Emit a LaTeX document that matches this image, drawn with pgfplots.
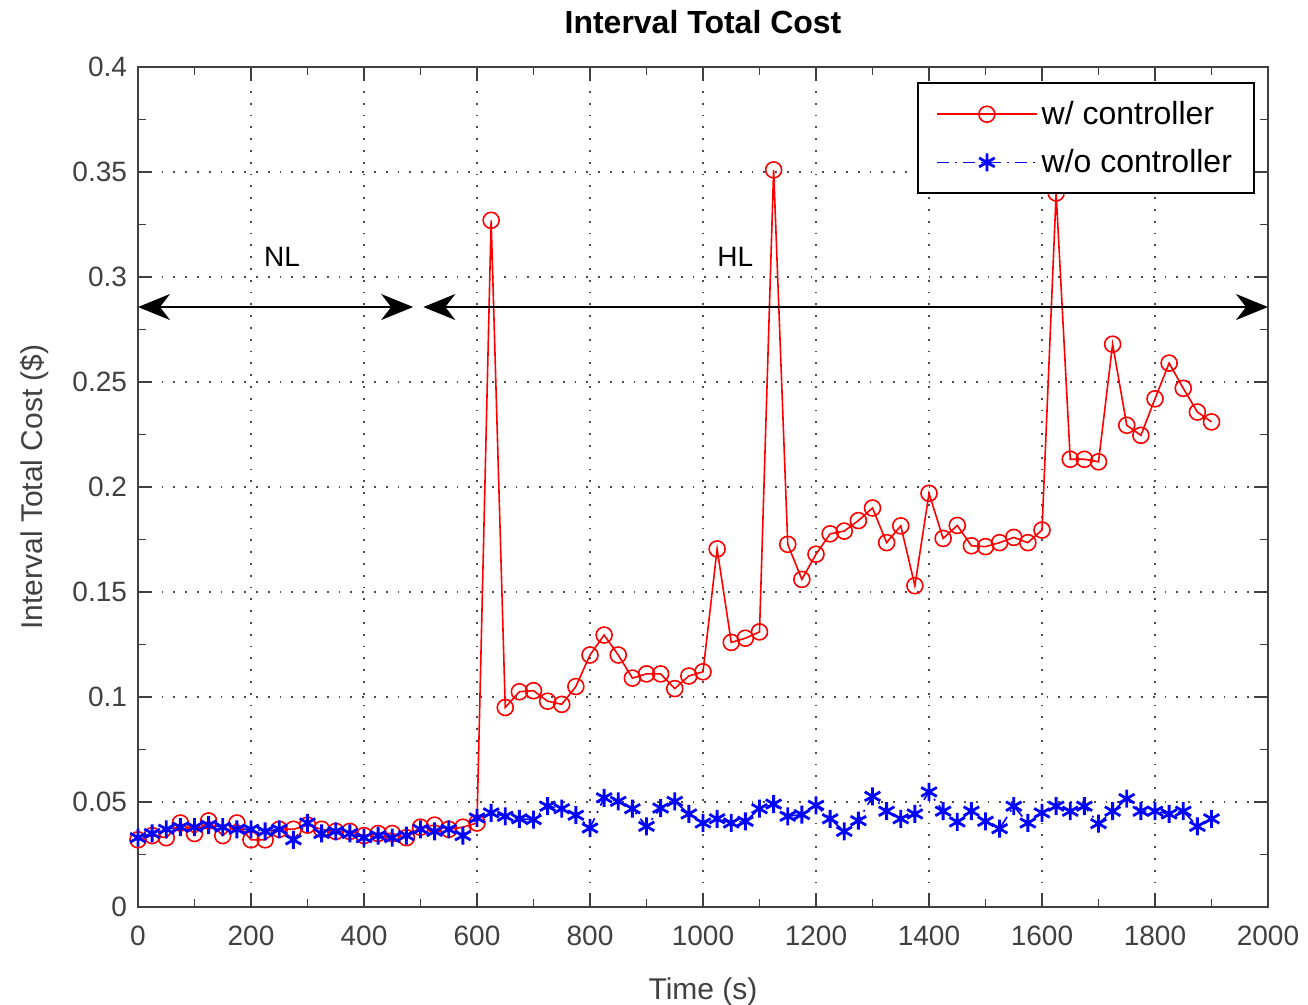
\documentclass[border=0pt]{standalone}
\usepackage{fontspec}
\setmainfont{Liberation Sans}
\usepackage{pgfplots}
\pgfplotsset{compat=1.18}
\usetikzlibrary{arrows.meta,calc}
\definecolor{axgray}{HTML}{404040}

\pgfplotstableread{
t cost
0 0.032
25 0.034
50 0.033
75 0.040
100 0.035
125 0.041
150 0.034
175 0.040
200 0.032
225 0.032
250 0.037
275 0.037
300 0.039
325 0.037
350 0.036
375 0.036
400 0.034
425 0.035
450 0.035
475 0.033
500 0.038
525 0.039
550 0.037
575 0.038
600 0.040
625 0.327
650 0.095
675 0.1025
700 0.103
725 0.098
750 0.0965
775 0.105
800 0.120
825 0.1295
850 0.120
875 0.109
900 0.111
925 0.111
950 0.104
975 0.110
1000 0.112
1025 0.1705
1050 0.126
1075 0.128
1100 0.131
1125 0.351
1150 0.1727
1175 0.156
1200 0.168
1225 0.1777
1250 0.179
1275 0.184
1300 0.190
1325 0.1735
1350 0.1815
1375 0.153
1400 0.197
1425 0.1755
1450 0.1817
1475 0.172
1500 0.1716
1525 0.1735
1550 0.176
1575 0.1735
1600 0.1795
1625 0.340
1650 0.2132
1675 0.2132
1700 0.212
1725 0.268
1750 0.2294
1775 0.2246
1800 0.242
1825 0.259
1850 0.247
1875 0.2357
1900 0.231
}\withctrl

\pgfplotstableread{
t cost
0 0.033
25 0.035
50 0.037
75 0.038
100 0.038
125 0.039
150 0.038
175 0.037
200 0.037
225 0.036
250 0.037
275 0.032
300 0.040
325 0.035
350 0.036
375 0.035
400 0.033
425 0.034
450 0.033
475 0.034
500 0.037
525 0.036
550 0.037
575 0.034
600 0.0424
625 0.0448
650 0.0432
675 0.042
700 0.0416
725 0.048
750 0.0468
775 0.0437
800 0.0376
825 0.052
850 0.0503
875 0.0468
900 0.0384
925 0.0471
950 0.0503
975 0.0443
1000 0.040
1025 0.042
1050 0.040
1075 0.0408
1100 0.0468
1125 0.049
1150 0.0432
1175 0.044
1200 0.0484
1225 0.042
1250 0.036
1275 0.0411
1300 0.0527
1325 0.0456
1350 0.042
1375 0.0443
1400 0.0548
1425 0.0456
1450 0.0405
1475 0.0456
1500 0.0408
1525 0.0373
1550 0.048
1575 0.040
1600 0.0448
1625 0.048
1650 0.0456
1675 0.048
1700 0.0397
1725 0.0456
1750 0.0516
1775 0.0456
1800 0.0456
1825 0.0443
1850 0.0456
1875 0.0384
1900 0.042
}\noctrl

\begin{document}
\begin{tikzpicture}
\begin{axis}[
  name=ax,
  scale only axis,
  width=565pt, height=420pt,
  xmin=0, xmax=2000, ymin=0, ymax=0.4,
  xtick={0,200,...,2000},
  ytick={0,0.05,...,0.4},
  minor x tick num=1, minor y tick num=1,
  tick align=inside,
  major tick length=7pt, minor tick length=4pt,
  every tick/.style={axgray, line width=0.6pt},
  axis line style={axgray, line width=1pt},
  grid=major,
  major grid style={black!70, line width=0.9pt, dash pattern=on 0.9pt off 5pt},
  /pgf/number format/assume math mode=true,
  /pgf/number format/1000 sep={},
  yticklabel style={/pgf/number format/fixed, /pgf/number format/precision=2},
  tick label style={font=\fontsize{14}{16}\selectfont, color=axgray},
  xticklabel style={yshift=-6pt},
  yticklabel style={xshift=-2pt},
  label style={font=\fontsize{15}{17}\selectfont, color=axgray},
  xlabel={Time (s)},
  xlabel style={yshift=-9pt},
  ylabel={Interval Total Cost (\$)},
  ylabel style={yshift=5pt},
  title={\textbf{Interval Total Cost}},
  title style={font=\fontsize{16}{18}\selectfont, yshift=7pt},
  legend style={at={(rel axis cs:0.9885,0.982)}, anchor=north east,
    draw=black, line width=1pt, fill=white,
    font=\fontsize{16}{19}\selectfont, inner xsep=9pt, inner ysep=7pt,
    row sep=7pt},
  legend cell align=left,
  legend image code/.code={%
    \draw[mark repeat=2, mark phase=2, #1] plot coordinates {(0pt,0pt) (25pt,0pt) (50pt,0pt)};},
]
\addplot[red, line width=0.8pt, mark=o, mark size=4pt,
  mark options={solid, line width=0.8pt}] table[x=t, y=cost] {\withctrl};
\addlegendentry{w/ controller}
\addplot[blue, line width=0.8pt, dash pattern=on 6pt off 3pt on 1pt off 3pt,
  mark=asterisk, mark size=4.5pt, mark options={solid, line width=1.4pt}]
  table[x=t, y=cost] {\noctrl};
\addlegendentry{w/o controller}

\draw[line width=0.8pt, {Stealth[length=16pt, width=13pt, inset=5pt]}-{Stealth[length=16pt, width=13pt, inset=5pt]}]
  (axis cs:0,0.2857) -- (axis cs:487,0.2857);
\draw[line width=0.8pt, {Stealth[length=16pt, width=13pt, inset=5pt]}-{Stealth[length=16pt, width=13pt, inset=5pt]}]
  (axis cs:505,0.2857) -- (axis cs:2000,0.2857);
\node[font=\fontsize{14}{16}\selectfont] at (axis cs:255,0.3095) {NL};
\node[font=\fontsize{14}{16}\selectfont] at (axis cs:1057,0.3095) {HL};
\end{axis}
\pgfresetboundingbox
\useasboundingbox ($(ax.south west)+(-69pt,-49pt)$) rectangle ($(ax.north east)+(20pt,33.5pt)$);
\end{tikzpicture}
\end{document}
